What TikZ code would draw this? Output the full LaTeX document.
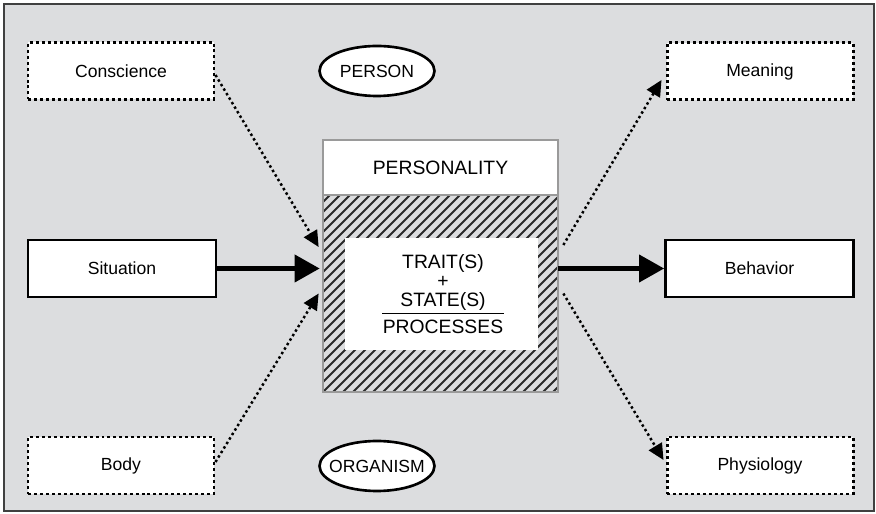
\documentclass[tikz,border=0pt]{standalone}
\usepackage{fontspec}
\setmainfont{Liberation Sans}
\usetikzlibrary{positioning,arrows.meta,shapes.geometric}
\definecolor{panel}{HTML}{DCDDDF}
\definecolor{rim}{HTML}{9A9A9A}
\definecolor{hatch}{HTML}{2A2A2A}
\tikzset{
 dotbox/.style={draw=black,fill=white,line width=1.7pt,dash pattern=on 1.7pt off 1.7pt,
   minimum width=3.72cm,minimum height=1.14cm,font=\fontsize{10}{12}\selectfont},
 solidbox/.style={draw=black,fill=white,line width=1.6pt,
   minimum width=3.76cm,minimum height=1.14cm,font=\fontsize{10}{12}\selectfont},
 ovalnode/.style={ellipse,draw=black,fill=white,line width=1.5pt,inner xsep=-5mm,inner ysep=0pt,
   minimum width=2.3cm,minimum height=1.0cm,font=\fontsize{10}{12}\selectfont},
 coretext/.style={inner sep=0pt,font=\fontsize{11}{13}\selectfont},
 bigarrow/.style={line width=2.3pt,-{Triangle[length=0.5cm,width=0.54cm]}},
 dotarrow/.style={line width=1.4pt,dash pattern=on 1.4pt off 1.6pt,
   -{Triangle[length=0.32cm,width=0.3cm]}},
 hatchline/.style={hatch,line width=1.1pt}
}
\begin{document}
\begin{tikzpicture}
 \useasboundingbox (0,0) rectangle (17.52,10.28);
 \draw[fill=panel,draw=black!75,line width=0.8pt] (0.08,0.06) rectangle (17.48,10.2);

 % side boxes
 \node[dotbox] (conscience) at (2.42,8.86) {Conscience};
 \node[solidbox] (situation) at (2.44,4.91) {Situation};
 \node[dotbox] (body) at (2.42,0.97) {Body};
 \node[dotbox] (meaning) at (15.2,8.85) {Meaning};
 \node[solidbox] (behavior) at (15.19,4.91) {Behavior};
 \node[dotbox] (physiology) at (15.2,0.97) {Physiology};

 \node[ovalnode] (person) at (7.54,8.86) {PERSON};
 \node[ovalnode] (organism) at (7.54,0.96) {ORGANISM};

 % personality block
 \node[draw=rim,fill=white,line width=1.1pt,minimum width=4.7cm,minimum height=1.1cm,
   font=\fontsize{11}{13}\selectfont] (personality) at (8.81,6.93) {PERSONALITY};
 \node[fill=panel,minimum width=4.7cm,minimum height=3.94cm] (core) at (8.81,4.41) {};
 \begin{scope}
  \clip (core.south west) rectangle (core.north east);
  \foreach \k in {0,...,46}
   \draw[hatchline] ([xshift={\k*0.2cm-4.2cm}]core.south west) -- ++(4.3,4.3);
 \end{scope}
 \draw[rim,line width=1.1pt] (core.south west) rectangle (core.north east);
 \node[fill=white,minimum width=3.86cm,minimum height=2.24cm] (inner) at (8.83,4.40) {};
 \node[coretext,anchor=base] (trait) at (8.86,4.9) {TRAIT(S)};
 \node[coretext] (plus) at (8.86,4.647) {+};
 \node[coretext,anchor=base] (state) at (8.86,4.14) {STATE(S)};
 \node[coretext,anchor=base] (procs) at (8.86,3.6) {PROCESSES};
 \draw[line width=0.6pt] ([yshift=1.3mm]procs.north west) -- ([yshift=1.3mm]procs.north east);

 % arrows
 \draw[bigarrow,shorten >=0.06cm] (situation.east) -- (situation -| core.west);
 \draw[bigarrow] (behavior -| core.east) -- (behavior.west);
 \draw[dotarrow] ([yshift=-0.08cm]conscience.east) -- ([shift={(-0.08,0.93)}]core.west);
 \draw[dotarrow] ([yshift=0.07cm]body.east) -- ([xshift=-0.08cm]core.west);
 \draw[dotarrow] ([shift={(0.1,0.97)}]core.east) -- ([shift={(-0.08,-0.17)}]meaning.west);
 \draw[dotarrow] ([xshift=0.1cm]core.east) -- ([shift={(-0.04,0.11)}]physiology.west);
\end{tikzpicture}
\end{document}
